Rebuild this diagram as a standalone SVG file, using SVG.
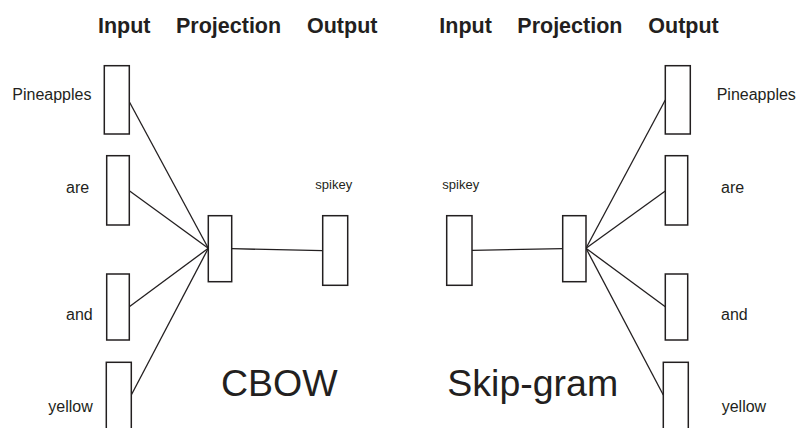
<svg xmlns="http://www.w3.org/2000/svg" width="798" height="428" viewBox="0 0 798 428">
<style>
.bx{fill:#fff;stroke:#231f20;stroke-width:1.5}
.ln{stroke:#231f20;stroke-width:1.3;fill:none}
text{font-family:"Liberation Sans",Arial,sans-serif;fill:#231f20}
.hd{font-size:21.5px;font-weight:bold}
.lb{font-size:16px}
.sm{font-size:13px}
.big{font-size:37.5px}
</style>
<rect width="798" height="428" fill="#fff"/>
<g id="headers">
<text class="hd" x="98" y="33">Input</text>
<text class="hd" x="176" y="33">Projection</text>
<text class="hd" x="307" y="33">Output</text>
<text class="hd" x="439.3" y="33">Input</text>
<text class="hd" x="517.3" y="33">Projection</text>
<text class="hd" x="648.3" y="33">Output</text>
</g>
<g id="connectors">
<line class="ln" x1="129.3" y1="101.7" x2="208.3" y2="248.3"/>
<line class="ln" x1="129.3" y1="190.7" x2="208.3" y2="248.3"/>
<line class="ln" x1="129.3" y1="306.7" x2="208.3" y2="248.3"/>
<line class="ln" x1="131.3" y1="395" x2="208.3" y2="248.3"/>
<line class="ln" x1="231.7" y1="248.7" x2="322.7" y2="250.7"/>
<line class="ln" x1="472" y1="250.3" x2="562.7" y2="248.7"/>
<line class="ln" x1="586" y1="248.3" x2="665.3" y2="100"/>
<line class="ln" x1="586" y1="248.3" x2="665.3" y2="191"/>
<line class="ln" x1="586" y1="248.3" x2="665.3" y2="306.7"/>
<line class="ln" x1="586" y1="248.3" x2="663.3" y2="395"/>
</g>
<g id="cbow-in-pineapples"><rect class="bx" x="104.3" y="65.7" width="25" height="68.3"/><text class="lb" x="12.3" y="100">Pineapples</text></g>
<g id="cbow-in-are"><rect class="bx" x="106.7" y="155.7" width="22.6" height="69.3"/><text class="lb" x="66" y="192.7">are</text></g>
<g id="cbow-in-and"><rect class="bx" x="106.7" y="274" width="22.6" height="66"/><text class="lb" x="66" y="320">and</text></g>
<g id="cbow-in-yellow"><rect class="bx" x="106.3" y="362.3" width="25" height="80"/><text class="lb" x="48.3" y="411.7">yellow</text></g>
<g id="cbow-proj"><rect class="bx" x="208.3" y="215.7" width="23.4" height="66"/></g>
<g id="cbow-out-spikey"><rect class="bx" x="322.7" y="215.7" width="25" height="69.6"/><text class="sm" x="315.3" y="189">spikey</text></g>
<g id="cbow-label"><text class="big" x="221" y="396">CBOW</text></g>
<g id="sg-in-spikey"><rect class="bx" x="446.7" y="215.7" width="25.3" height="69.6"/><text class="sm" x="442.3" y="189">spikey</text></g>
<g id="sg-proj"><rect class="bx" x="562.7" y="215.7" width="23.3" height="66"/></g>
<g id="sg-out-pineapples"><rect class="bx" x="665.3" y="65.7" width="25" height="68.3"/><text class="lb" x="716.7" y="100">Pineapples</text></g>
<g id="sg-out-are"><rect class="bx" x="665.3" y="155.7" width="22.4" height="69.3"/><text class="lb" x="721" y="192.7">are</text></g>
<g id="sg-out-and"><rect class="bx" x="665.3" y="274" width="22.4" height="66"/><text class="lb" x="721" y="320">and</text></g>
<g id="sg-out-yellow"><rect class="bx" x="663.3" y="362.3" width="25" height="80"/><text class="lb" x="721.7" y="411.7">yellow</text></g>
<g id="sg-label"><text class="big" x="447.3" y="396">Skip-gram</text></g>
</svg>
